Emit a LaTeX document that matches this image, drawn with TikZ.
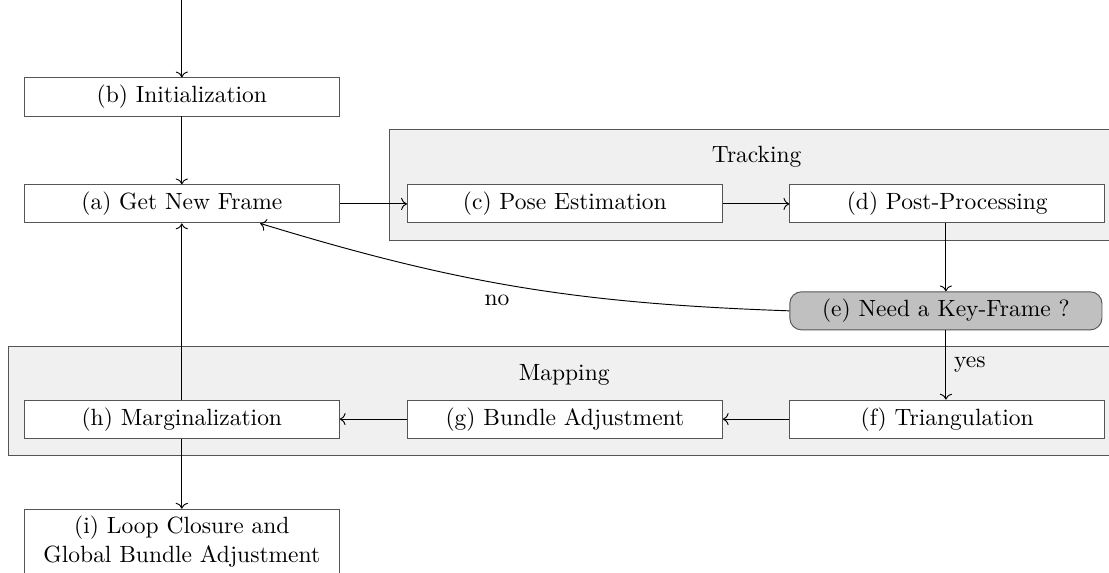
\documentclass[tikz,border=0pt]{standalone}
\usepackage{amsmath,amssymb}
\usetikzlibrary{arrows.meta, calc}
\definecolor{panel}{HTML}{F0F0F0}
\definecolor{edgegray}{HTML}{555555}
\definecolor{askgray}{HTML}{C0C0C0}

\begin{document}
\begin{tikzpicture}[
  stage/.style={draw=edgegray, fill=white, minimum width=4.71cm, minimum height=0.57cm, inner sep=0pt, align=center},
  decision/.style={stage, fill=askgray, rounded corners=5pt, minimum width=4.67cm},
  panelbox/.style={draw=edgegray, fill=panel},
  flow/.style={->}
]
\useasboundingbox (0,0) rectangle (16.59,-8.57);

% Groups
\filldraw[panelbox] (5.82,-1.93) rectangle (16.80,-3.59);
\filldraw[panelbox] (0.12,-5.18) rectangle (16.80,-6.82);
\node (tracktitle) at (11.32,-2.35) {Tracking};
\node (maptitle) at (8.44,-5.61) {Mapping};

% Stages
\coordinate (start) at (2.72,0);
\node[stage] (b) at (2.72,-1.45) {(b) Initialization};
\node[stage] (a) at (2.72,-3.05) {(a) Get New Frame};
\node[stage] (c) at (8.45,-3.05) {(c) Pose Estimation};
\node[stage] (d) at (14.17,-3.05) {(d) Post-Processing};
\node[decision] (e) at (14.15,-4.65) {(e) Need a Key-Frame ?};
\node[stage] (f) at (14.17,-6.27) {(f) Triangulation};
\node[stage] (g) at (8.45,-6.27) {(g) Bundle Adjustment};
\node[stage] (h) at (2.72,-6.27) {(h) Marginalization};
\node[stage, inner sep=3pt, anchor=north] (i) at (2.72,-7.61) {(i) Loop Closure and\\Global Bundle Adjustment};

% Connections
\draw[flow] (start) -- (b);
\draw[flow] (b) -- (a);
\draw[flow] (a) -- (c);
\draw[flow] (c) -- (d);
\draw[flow] (d.south -| e) -- (e);
\draw[flow] (e.west) to[out=178, in=-17] node[pos=0.55, below=1.5pt] {no} (a.-14);
\draw[flow] (e) -- node[right] {yes} (e |- f.north);
\draw[flow] (f) -- (g);
\draw[flow] (g) -- (h);
\draw[flow] (h) -- (a);
\draw[flow] (h) -- (i);

\end{tikzpicture}
\end{document}
